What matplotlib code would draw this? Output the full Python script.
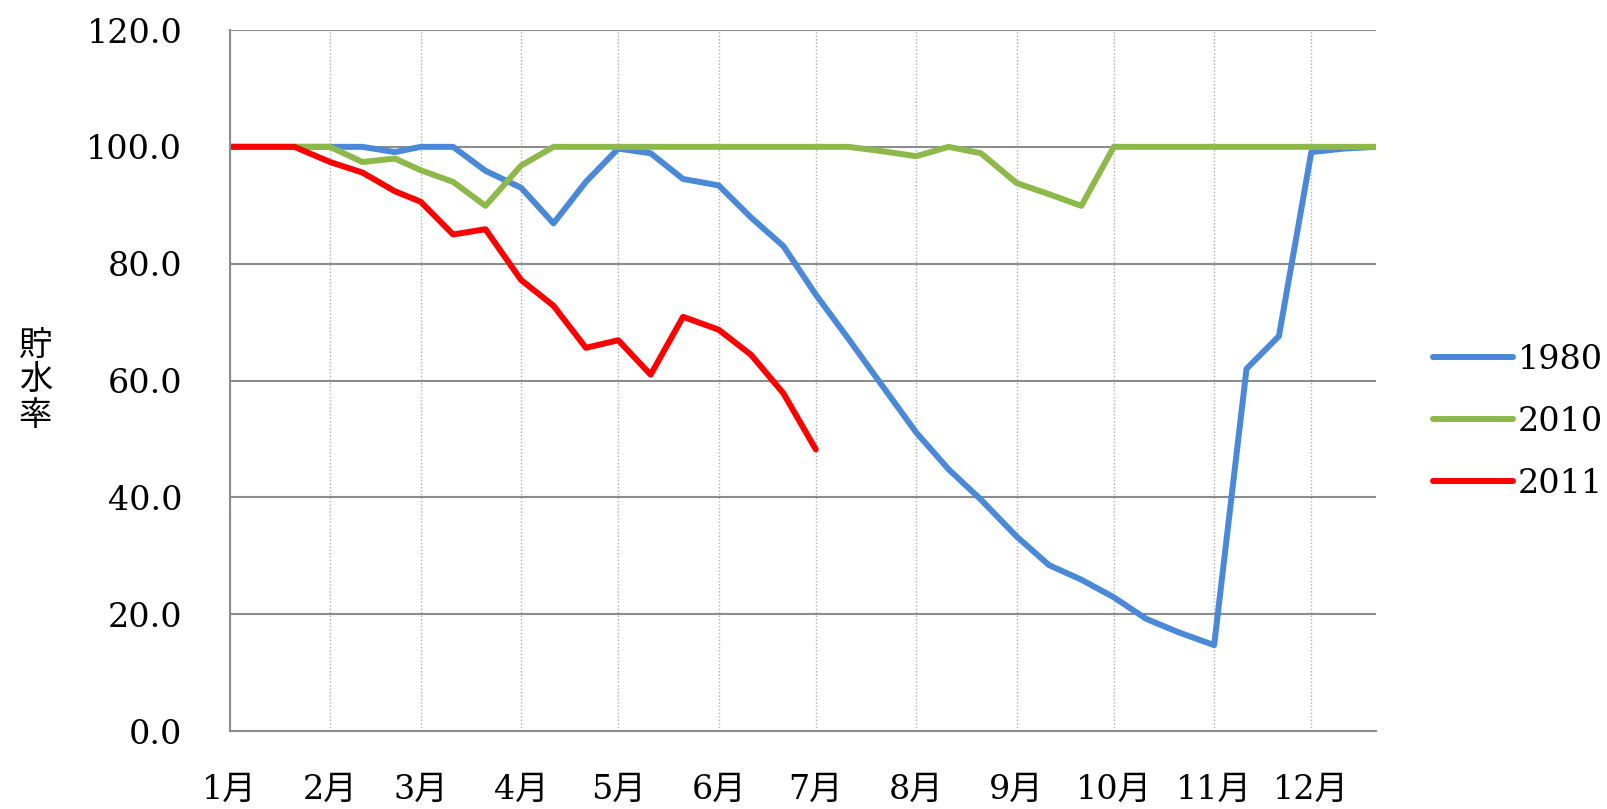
import datetime
import matplotlib
matplotlib.use('Agg')
import matplotlib.pyplot as plt
import matplotlib.dates as mdates

# Data: storage rate (%) sampled on the 1st, 11th and 21st of each month
months = list(range(1, 13))
days = [1, 11, 21]
month_labels = [f"{m}月" for m in months]

rate_1980 = [100, 100, 100, 100, 100, 99.1, 100, 100, 95.9, 93.0, 86.9, 94.0,
             99.7, 98.9, 94.5, 93.4, 87.9, 83.0, 74.7, 67.2, 59.5, 51.1, 44.8, 39.6,
             33.3, 28.4, 25.9, 22.9, 19.2, 16.9, 14.7, 62.0, 67.6, 99.1, 99.7, 100]
rate_2010 = [100, 100, 100, 100, 97.4, 98.0, 96.0, 94.0, 89.9, 96.8, 100, 100,
             100, 100, 100, 100, 100, 100, 100, 100, 99.3, 98.4, 100, 98.9,
             93.8, 91.9, 89.9, 100, 100, 100, 100, 100, 100, 100, 100, 100]
rate_2011 = [100, 100, 100, 97.4, 95.6, 92.4, 90.6, 85.0, 85.9, 77.2, 72.8, 65.6,
             66.9, 61.0, 70.9, 68.7, 64.4, 57.8, 48.2]

dates = [datetime.date(2011, m, d) for m in months for d in days]

fig = plt.figure(figsize=(16.07, 8.09), dpi=100)
ax = fig.add_axes([0.1429, 0.0964, 0.7134, 0.8665])

serif = ['DejaVu Serif', 'Noto Sans CJK JP']
lw = 4.3

ax.plot(dates, rate_1980, color='#4A89D8', lw=lw, label='1980', solid_capstyle='round')
ax.plot(dates, rate_2010, color='#8DB84A', lw=lw, label='2010', solid_capstyle='round')
ax.plot(dates[:len(rate_2011)], rate_2011, color='#FF0000', lw=lw, label='2011',
        solid_capstyle='round')

ax.set_xlim(datetime.date(2011, 1, 1), datetime.date(2011, 12, 21))
ax.set_ylim(0, 120)
ax.set_yticks(range(0, 121, 20))
ax.set_yticklabels([f"{v:.1f}" for v in range(0, 121, 20)], family=serif, fontsize=24)

month_ticks = [datetime.date(2011, m, 1) for m in months]
ax.set_xticks(mdates.date2num(month_ticks))
ax.set_xticklabels(month_labels, family=serif, fontsize=24)
ax.tick_params(axis='both', length=0)
ax.tick_params(axis='x', pad=31)
ax.tick_params(axis='y', pad=34)

ax.yaxis.grid(True, color='#8c8c8c', lw=1.5, ls='-')
ax.xaxis.grid(True, color='#b0b0b0', lw=1.0, ls=(0, (1, 1.5)))
ax.set_axisbelow(True)
for side in ['top', 'right']:
    ax.spines[side].set_visible(False)
for side in ['left', 'bottom']:
    ax.spines[side].set_color('#8c8c8c')
    ax.spines[side].set_linewidth(1.5)

fig.text(0.022, 0.53, "貯\n水\n率", family=['Noto Sans CJK JP'], fontsize=24,
         ha='center', va='center', linespacing=1.0)

leg = fig.legend(loc='center left', bbox_to_anchor=(0.8917, 0.4784), frameon=False,
                 prop={'family': serif, 'size': 24}, handlelength=2.4,
                 handletextpad=0.15, labelspacing=0.9, borderpad=0, borderaxespad=0)

fig.savefig('out.png', dpi=100)
